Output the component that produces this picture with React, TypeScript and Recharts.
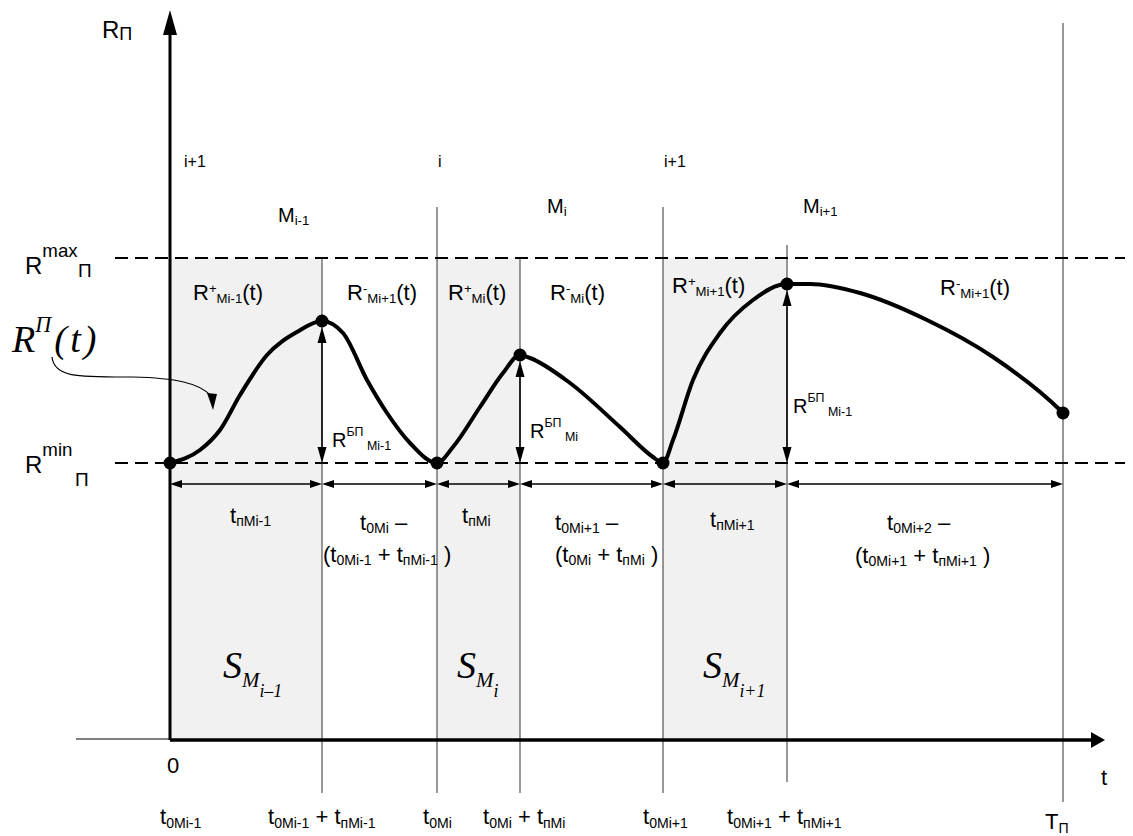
import React from "react";
import {
  ComposedChart,
  XAxis,
  YAxis,
  Line,
  Scatter,
  ReferenceArea,
  ReferenceLine,
  ReferenceDot,
} from "recharts";

// chart units: t0Mi-1 = 0 on the time axis, R = 0 on the time axis line
const keyTimes = [0, 152, 267, 350, 493, 617, 893];
const keyValues = [277, 419, 277, 385, 277, 456, 327];
const tickLabels = [
  "t_{0Mi-1}",
  "t_{0Mi-1} + t_{пMi-1}",
  "t_{0Mi}",
  "t_{0Mi} + t_{пMi}",
  "t_{0Mi+1}",
  "t_{0Mi+1} + t_{пMi+1}",
  "T_{П}",
];
const R_MIN = 277;
const R_MAX = 482;

// RП(t)
const curveTimes = [
  0, 30, 50, 70, 97, 127, 152, 173, 197, 217, 240, 267, 283, 310, 333, 350,
  360, 400, 450, 483, 493, 503, 523, 550, 583, 617, 640, 690, 757, 823, 890, 893,
];
const curveValues = [
  277, 290, 310, 345, 385, 408, 419, 407, 360, 327, 297, 277, 293, 333, 367, 385,
  382, 357, 313, 283, 277, 300, 360, 407, 440, 456, 456, 447, 420, 383, 330, 327,
];

// shaded intervals S_M
const shadeFrom = [0, 267, 493];
const shadeTo = [152, 350, 617];

// thin vertical guides
const guideTimes = [152, 267, 350, 493, 617, 893];
const guideTop = [482, 533, 482, 533, 495, 717];
const guideBottom = [-53, -53, -53, -53, -42, -62];

const DIM_LEVEL = 256;

const curve = curveTimes.map((t, i) => ({ t, R: curveValues[i] }));
const keyPoints = keyTimes.map((t, i) => ({ t, R: keyValues[i] }));

const SANS = "'Liberation Sans', Arial, Helvetica, sans-serif";
const SERIF = "'Liberation Serif', 'Times New Roman', serif";

type Seg = { s: string; k: number };
function parse(src: string): Seg[] {
  const out: Seg[] = [];
  const re = /\^\{([^}]*)\}|_\{([^}]*)\}|~\{([^}]*)\}|([^^_~]+)/g;
  let m: RegExpExecArray | null;
  while ((m = re.exec(src))) {
    if (m[1] !== undefined) out.push({ s: m[1], k: 1 });
    else if (m[2] !== undefined) out.push({ s: m[2], k: 2 });
    else if (m[3] !== undefined) out.push({ s: m[3], k: 3 });
    else out.push({ s: m[4], k: 0 });
  }
  return out;
}

interface Style {
  fs: number;
  sup?: number;
  sub?: number;
  sub2?: number;
  small?: number;
  small2?: number;
  serif?: boolean;
}

const styles: Record<string, Style> = {
  axis: { fs: 24, sub: 2, small: 0.75 },
  idx: { fs: 16 },
  m: { fs: 20, sub: 3, small: 0.66 },
  lim: { fs: 24, sup: -17, small: 0.78 },
  limSub: { fs: 19 },
  r: { fs: 22, sup: -7, sub: 3, small: 0.6 },
  rb: { fs: 20, sup: -11, sub: 3, small: 0.62 },
  dim: { fs: 22, sub: 3, small: 0.64 },
  tick: { fs: 22, sub: 4, small: 0.64 },
  s: { fs: 38, sub: 9, sub2: 19, small: 0.55, small2: 0.47, serif: true },
  rt: { fs: 38, sup: -20, small: 0.58, serif: true },
};

function Rich({ x, y, src, st }: { x: number; y: number; src: string; st: Style }) {
  const fs = st.fs;
  const sup = st.sup ?? -0.33 * fs;
  const sub = st.sub ?? 0.14 * fs;
  const sub2 = st.sub2 ?? 0.5 * fs;
  const small = st.small ?? 0.62;
  const small2 = st.small2 ?? 0.52;
  let cur = 0;
  return (
    <text
      x={x}
      y={y}
      fontSize={fs}
      fontFamily={st.serif ? SERIF : SANS}
      fontStyle={st.serif ? "italic" : "normal"}
      fill="#000"
      xmlSpace="preserve"
      style={{ whiteSpace: "pre" }}
    >
      {parse(src).map((s, i) => {
        const off = s.k === 1 ? sup : s.k === 2 ? sub : s.k === 3 ? sub2 : 0;
        const size = s.k === 0 ? fs : s.k === 3 ? fs * small2 : fs * small;
        const dy = off - cur;
        cur = off;
        return (
          <tspan key={i} dy={dy} fontSize={size}>
            {s.s}
          </tspan>
        );
      })}
    </text>
  );
}

// text placement (chart units, start of baseline)
const notes: { t: number; r: number; src: string; st: string }[] = [
  { t: -68, r: 702, src: "R_{П}", st: "axis" },
  { t: 14, r: 573, src: "i+1", st: "idx" },
  { t: 268, r: 573, src: "i", st: "idx" },
  { t: 494, r: 573, src: "i+1", st: "idx" },
  { t: 108, r: 518, src: "M_{i-1}", st: "m" },
  { t: 377, r: 527, src: "M_{i}", st: "m" },
  { t: 633, r: 527, src: "M_{i+1}", st: "m" },
  { t: -145, r: 466, src: "R^{max}", st: "lim" },
  { t: -92, r: 463, src: "П", st: "limSub" },
  { t: -145, r: 267, src: "R^{min}", st: "lim" },
  { t: -95, r: 254, src: "П", st: "limSub" },
  { t: 23, r: 440, src: "R^{+}_{Mi-1}(t)", st: "r" },
  { t: 177, r: 440, src: "R^{-}_{Mi+1}(t)", st: "r" },
  { t: 278, r: 440, src: "R^{+}_{Mi}(t)", st: "r" },
  { t: 380, r: 440, src: "R^{-}_{Mi}(t)", st: "r" },
  { t: 502, r: 447, src: "R^{+}_{Mi+1}(t)", st: "r" },
  { t: 770, r: 445, src: "R^{-}_{Mi+1}(t)", st: "r" },
  { t: 162, r: 293, src: "R^{БП}_{ Mi-1}", st: "rb" },
  { t: 360, r: 302, src: "R^{БП}_{ Mi}", st: "rb" },
  { t: 623, r: 327, src: "R^{БП}_{ Mi-1}", st: "rb" },
  { t: 60, r: 217, src: "t_{пMi-1}", st: "dim" },
  { t: 190, r: 210, src: "t_{0Mi} –", st: "dim" },
  { t: 153, r: 178, src: "(t_{0Mi-1} + t_{пMi-1} )", st: "dim" },
  { t: 292, r: 217, src: "t_{пMi}", st: "dim" },
  { t: 385, r: 210, src: "t_{0Mi+1} –", st: "dim" },
  { t: 385, r: 178, src: "(t_{0Mi} + t_{пMi} )", st: "dim" },
  { t: 540, r: 213, src: "t_{пMi+1}", st: "dim" },
  { t: 717, r: 210, src: "t_{0Mi+2} –", st: "dim" },
  { t: 685, r: 177, src: "(t_{0Mi+1} + t_{пMi+1} )", st: "dim" },
  { t: -3, r: -33, src: "0", st: "dim" },
  { t: 931, r: -45, src: "t", st: "dim" },
  { t: 53, r: 62, src: "S_{M}~{i–1}", st: "s" },
  { t: 287, r: 62, src: "S_{M}~{i}", st: "s" },
  { t: 533, r: 62, src: "S_{M}~{i+1}", st: "s" },
  { t: -158, r: 388, src: "R^{П}\u200A(\u200At\u200A)", st: "rt" },
];
// tick label offsets from their tick
const tickDx = [-10, -54, -14, -37, -20, -60, -18];
const tickR = [-84, -84, -84, -84, -84, -84, -89];

function head(x: number, y: number, ux: number, uy: number, len: number, hw: number) {
  const bx = x - ux * len;
  const by = y - uy * len;
  return `${x},${y} ${bx - uy * hw},${by + ux * hw} ${bx + uy * hw},${by - ux * hw}`;
}

function arrow(opts: { start?: boolean; end?: boolean; len: number; hw: number; w: number; color?: string }) {
  return (p: any) => {
    const { x1, y1, x2, y2 } = p;
    const d = Math.hypot(x2 - x1, y2 - y1) || 1;
    const ux = (x2 - x1) / d;
    const uy = (y2 - y1) / d;
    const c = opts.color ?? "#000";
    const sx = opts.start ? x1 + ux * opts.len * 0.8 : x1;
    const sy = opts.start ? y1 + uy * opts.len * 0.8 : y1;
    const ex = opts.end ? x2 - ux * opts.len * 0.8 : x2;
    const ey = opts.end ? y2 - uy * opts.len * 0.8 : y2;
    return (
      <g>
        <line x1={sx} y1={sy} x2={ex} y2={ey} stroke={c} strokeWidth={opts.w} />
        {opts.start && <polygon points={head(x1, y1, -ux, -uy, opts.len, opts.hw)} fill={c} />}
        {opts.end && <polygon points={head(x2, y2, ux, uy, opts.len, opts.hw)} fill={c} />}
      </g>
    );
  };
}

const dimArrow = arrow({ start: true, end: true, len: 12, hw: 4, w: 1.5 });
const bpArrow = arrow({ start: true, end: true, len: 16, hw: 4.5, w: 1.5 });
const yAxisArrow = arrow({ end: true, len: 25, hw: 7, w: 3 });
const xAxisArrow = arrow({ end: true, len: 14, hw: 8, w: 3.5 });

function pointerShape(p: any) {
  const { cx, cy } = p;
  const P = (dx: number, dy: number) => `${cx + dx},${cy + dy}`;
  return (
    <g>
      <path
        d={`M${P(-161, -53)} C${P(-159, -32)} ${P(-133, -33)} ${P(-80, -33)} C${P(-38, -32)} ${P(-13, -27)} ${P(-2, -14)}`}
        fill="none"
        stroke="#000"
        strokeWidth={1.2}
      />
      <polygon points={`${P(0, 0)} ${P(-6, -17)} ${P(4, -16)}`} fill="#000" />
    </g>
  );
}

export default function App() {
  return (
    <div style={{ position: "absolute", left: 0, top: 0, background: "#fff" }}>
      <ComposedChart width={1133} height={836} margin={{ top: 0, right: 0, bottom: 0, left: 0 }}>
        <XAxis type="number" dataKey="t" domain={[-170, 963]} hide allowDataOverflow />
        <YAxis type="number" domain={[-96, 740]} hide allowDataOverflow />

        {shadeFrom.map((a, i) => (
          <ReferenceArea
            key={`sh${i}`}
            x1={a}
            x2={shadeTo[i]}
            y1={0}
            y2={R_MAX}
            fill="#f1f1f1"
            fillOpacity={1}
            stroke="none"
          />
        ))}

        {guideTimes.map((t, i) => (
          <ReferenceLine
            key={`g${i}`}
            segment={[
              { x: t, y: guideBottom[i] },
              { x: t, y: guideTop[i] },
            ]}
            stroke="#333"
            strokeWidth={1}
          />
        ))}

        <ReferenceLine
          segment={[
            { x: -55, y: R_MAX },
            { x: 955, y: R_MAX },
          ]}
          stroke="#000"
          strokeWidth={2}
          strokeDasharray="13 7"
        />
        <ReferenceLine
          segment={[
            { x: -55, y: R_MIN },
            { x: 955, y: R_MIN },
          ]}
          stroke="#000"
          strokeWidth={2}
          strokeDasharray="13 7"
        />

        <ReferenceLine
          segment={[
            { x: -94, y: 1 },
            { x: 0, y: 1 },
          ]}
          stroke="#555"
          strokeWidth={1.5}
        />
        <ReferenceLine
          segment={[
            { x: 0, y: 0 },
            { x: 935, y: 0 },
          ]}
          shape={xAxisArrow}
        />
        <ReferenceLine
          segment={[
            { x: 0, y: 0 },
            { x: 0, y: 730 },
          ]}
          shape={yAxisArrow}
        />

        {keyTimes.slice(1).map((t, i) => (
          <ReferenceLine
            key={`d${i}`}
            segment={[
              { x: keyTimes[i], y: DIM_LEVEL },
              { x: t, y: DIM_LEVEL },
            ]}
            shape={dimArrow}
          />
        ))}

        {[1, 3, 5].map((k) => (
          <ReferenceLine
            key={`bp${k}`}
            segment={[
              { x: keyTimes[k], y: R_MIN },
              { x: keyTimes[k], y: keyValues[k] - 6 },
            ]}
            shape={bpArrow}
          />
        ))}

        <Line
          data={curve}
          dataKey="R"
          type="monotone"
          stroke="#000"
          strokeWidth={4}
          dot={false}
          activeDot={false}
          isAnimationActive={false}
        />
        <Scatter
          data={keyPoints}
          dataKey="R"
          isAnimationActive={false}
          shape={(p: any) => <circle cx={p.cx} cy={p.cy} r={6.5} fill="#000" />}
        />

        <ReferenceDot x={43} y={330} shape={pointerShape} />

        {notes.map((n, i) => (
          <ReferenceDot
            key={`n${i}`}
            x={n.t}
            y={n.r}
            shape={(p: any) => <Rich x={p.cx} y={p.cy} src={n.src} st={styles[n.st]} />}
          />
        ))}
        {tickLabels.map((lab, i) => (
          <ReferenceDot
            key={`tk${i}`}
            x={keyTimes[i] + tickDx[i]}
            y={tickR[i]}
            shape={(p: any) => <Rich x={p.cx} y={p.cy} src={lab} st={styles.tick} />}
          />
        ))}
      </ComposedChart>
    </div>
  );
}
